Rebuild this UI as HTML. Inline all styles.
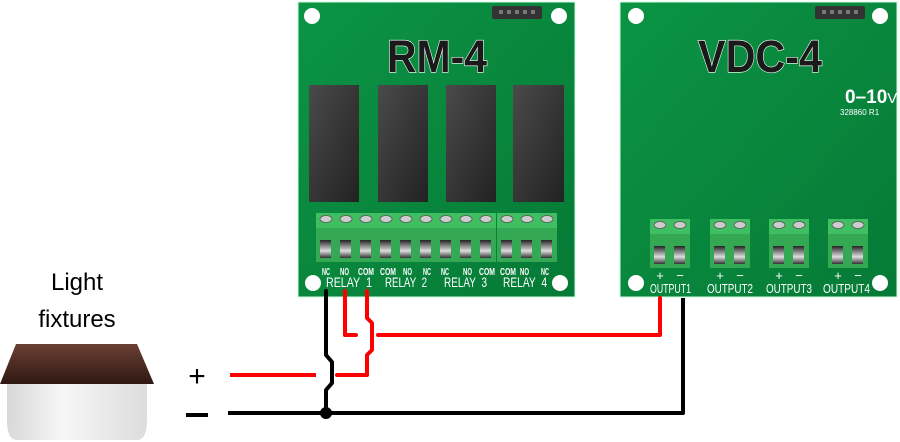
<!DOCTYPE html>
<html><head><style>
html,body{margin:0;padding:0;background:#fff;}
svg{display:block;}
text{font-family:"Liberation Sans",sans-serif;}
</style></head><body>
<svg width="900" height="442" viewBox="0 0 900 442" xmlns="http://www.w3.org/2000/svg">
<defs>
<linearGradient id="bd" x1="0" y1="0" x2="1" y2="1"><stop offset="0" stop-color="#0b9444"/><stop offset="1" stop-color="#067a36"/></linearGradient>
<linearGradient id="rl" x1="0" y1="0" x2="1" y2="1"><stop offset="0" stop-color="#4a4a4a"/><stop offset="1" stop-color="#222"/></linearGradient>
<linearGradient id="hole" x1="0" y1="0" x2="0" y2="1"><stop offset="0" stop-color="#222"/><stop offset="0.6" stop-color="#ddd"/><stop offset="1" stop-color="#333"/></linearGradient>
<linearGradient id="cap" x1="0" y1="0" x2="0" y2="1"><stop offset="0" stop-color="#6a4034"/><stop offset="1" stop-color="#2f1812"/></linearGradient>
<linearGradient id="shade" x1="0" y1="0" x2="1" y2="0"><stop offset="0" stop-color="#d8d8d8"/><stop offset="0.4" stop-color="#f7f7f7"/><stop offset="1" stop-color="#dcdcdc"/></linearGradient>
<g id="term">
<rect x="0" y="0" width="20" height="49" fill="#34a853"/>
<rect x="0" y="0" width="20" height="15" fill="#3fbf62"/>
<ellipse cx="10" cy="6" rx="6" ry="3.5" fill="#ccc" stroke="#555" stroke-width="0.8"/>
<rect x="4" y="27" width="11" height="18" fill="url(#hole)"/>
</g>
</defs>

<rect x="298" y="2" width="277" height="295" fill="url(#bd)" stroke="#cfd" stroke-width="1"/>
<circle cx="312" cy="16" r="8" fill="#fff"/><circle cx="559" cy="16" r="8" fill="#fff"/>
<circle cx="313" cy="283" r="8" fill="#fff"/><circle cx="560" cy="283" r="8" fill="#fff"/>
<rect x="492" y="6" width="50" height="13" rx="2" fill="#333"/>
<g fill="#777"><rect x="499" y="10" width="4" height="4"/><rect x="507" y="10" width="4" height="4"/><rect x="515" y="10" width="4" height="4"/><rect x="523" y="10" width="4" height="4"/><rect x="531" y="10" width="4" height="4"/></g>
<text x="387" y="72" textLength="100" lengthAdjust="spacingAndGlyphs" font-size="45" font-weight="bold" fill="#1a1a1a" stroke="#fff" stroke-width="1.2" paint-order="stroke">RM-4</text>
<rect x="309" y="85" width="50" height="117" fill="url(#rl)"/>
<rect x="378" y="85" width="50" height="117" fill="url(#rl)"/>
<rect x="446" y="85" width="50" height="117" fill="url(#rl)"/>
<rect x="513" y="85" width="51" height="117" fill="url(#rl)"/>
<g>
<use href="#term" x="316" y="213"/><use href="#term" x="336" y="213"/><use href="#term" x="356" y="213"/>
<use href="#term" x="376" y="213"/><use href="#term" x="396" y="213"/><use href="#term" x="416" y="213"/>
<use href="#term" x="436" y="213"/><use href="#term" x="456" y="213"/><use href="#term" x="476" y="213"/>
<use href="#term" x="497" y="213"/><use href="#term" x="517" y="213"/><use href="#term" x="537" y="213"/>
</g>
<g font-size="10" fill="#fff" font-weight="bold">
<text x="322" y="275" textLength="8" lengthAdjust="spacingAndGlyphs">NC</text>
<text x="340" y="275" textLength="9" lengthAdjust="spacingAndGlyphs">NO</text>
<text x="358" y="275" textLength="16" lengthAdjust="spacingAndGlyphs">COM</text>
<text x="380" y="275" textLength="16" lengthAdjust="spacingAndGlyphs">COM</text>
<text x="403" y="275" textLength="9" lengthAdjust="spacingAndGlyphs">NO</text>
<text x="423" y="275" textLength="8" lengthAdjust="spacingAndGlyphs">NC</text>
<text x="441" y="275" textLength="8" lengthAdjust="spacingAndGlyphs">NC</text>
<text x="463" y="275" textLength="9" lengthAdjust="spacingAndGlyphs">NO</text>
<text x="479" y="275" textLength="16" lengthAdjust="spacingAndGlyphs">COM</text>
<text x="500" y="275" textLength="16" lengthAdjust="spacingAndGlyphs">COM</text>
<text x="520" y="275" textLength="9" lengthAdjust="spacingAndGlyphs">NO</text>
<text x="541" y="275" textLength="8" lengthAdjust="spacingAndGlyphs">NC</text>
</g>
<g font-size="14" fill="#fff">
<text x="326" y="287" textLength="46" lengthAdjust="spacingAndGlyphs">RELAY&#160;&#160;1</text>
<text x="385" y="287" textLength="42" lengthAdjust="spacingAndGlyphs">RELAY&#160;&#160;2</text>
<text x="444" y="287" textLength="43" lengthAdjust="spacingAndGlyphs">RELAY&#160;&#160;3</text>
<text x="503" y="287" textLength="44" lengthAdjust="spacingAndGlyphs">RELAY&#160;&#160;4</text>
</g>

<rect x="620" y="2" width="277" height="295" fill="url(#bd)" stroke="#cfd" stroke-width="1"/>
<circle cx="636" cy="16" r="8" fill="#fff"/><circle cx="880" cy="16" r="8" fill="#fff"/>
<circle cx="636" cy="283" r="8" fill="#fff"/><circle cx="880" cy="283" r="8" fill="#fff"/>
<rect x="815" y="6" width="50" height="13" rx="2" fill="#333"/>
<g fill="#777"><rect x="822" y="10" width="4" height="4"/><rect x="830" y="10" width="4" height="4"/><rect x="838" y="10" width="4" height="4"/><rect x="846" y="10" width="4" height="4"/><rect x="854" y="10" width="4" height="4"/></g>
<text x="698" y="72" textLength="124" lengthAdjust="spacingAndGlyphs" font-size="45" font-weight="bold" fill="#1a1a1a" stroke="#fff" stroke-width="1.2" paint-order="stroke">VDC-4</text>
<text x="845" y="103" font-size="19" font-weight="bold" fill="#fff">0–10<tspan font-size="15" font-weight="normal">V</tspan></text>
<text x="840" y="115" font-size="8" fill="#fff">328860 R1</text>
<use href="#term" x="650" y="219"/><use href="#term" x="670" y="219"/>
<use href="#term" x="710" y="219"/><use href="#term" x="730" y="219"/>
<use href="#term" x="769" y="219"/><use href="#term" x="789" y="219"/>
<use href="#term" x="828" y="219"/><use href="#term" x="848" y="219"/>
<g font-size="13" fill="#fff" text-anchor="middle">
<text x="660" y="280">+</text><text x="680" y="280">−</text>
<text x="720" y="280">+</text><text x="740" y="280">−</text>
<text x="779" y="280">+</text><text x="799" y="280">−</text>
<text x="838" y="280">+</text><text x="858" y="280">−</text>
</g>
<g font-size="13" fill="#fff">
<text x="650" y="293" textLength="41" lengthAdjust="spacingAndGlyphs">OUTPUT1</text>
<text x="707" y="293" textLength="46" lengthAdjust="spacingAndGlyphs">OUTPUT2</text>
<text x="766" y="293" textLength="46" lengthAdjust="spacingAndGlyphs">OUTPUT3</text>
<text x="823" y="293" textLength="47" lengthAdjust="spacingAndGlyphs">OUTPUT4</text>
</g>

<g fill="none" stroke-width="4" stroke-linejoin="round" stroke-linecap="round">
<path d="M345 291 V335 H356" stroke="#f00"/>
<path d="M378 335 H660 V298" stroke="#f00"/>
<path d="M367 291 V318 L372 323 V350 L367 355 V375 H337" stroke="#f00"/>
<path d="M316 375 H230" stroke="#f00" stroke-linecap="butt"/>
<path d="M326 291 V355 L332 362 V383 L326 390 V413" stroke="#000"/>
<path d="M228 413 H683 V298" stroke="#000" stroke-linecap="butt"/>
</g>
<circle cx="326" cy="413" r="6" fill="#000"/>

<text x="77" y="290" text-anchor="middle" font-size="24" fill="#000">Light</text>
<text x="77" y="327" text-anchor="middle" font-size="24" fill="#000">fixtures</text>
<path d="M16 344 H137 L154 384 H0 Z" fill="url(#cap)"/>
<path d="M7 384 H147 V420 Q147 440 137 440 H17 Q7 440 7 420 Z" fill="url(#shade)"/>
<text x="197" y="386" text-anchor="middle" font-size="30" fill="#000">+</text>
<rect x="186" y="413" width="22" height="4" fill="#000"/>
</svg>
</body></html>
